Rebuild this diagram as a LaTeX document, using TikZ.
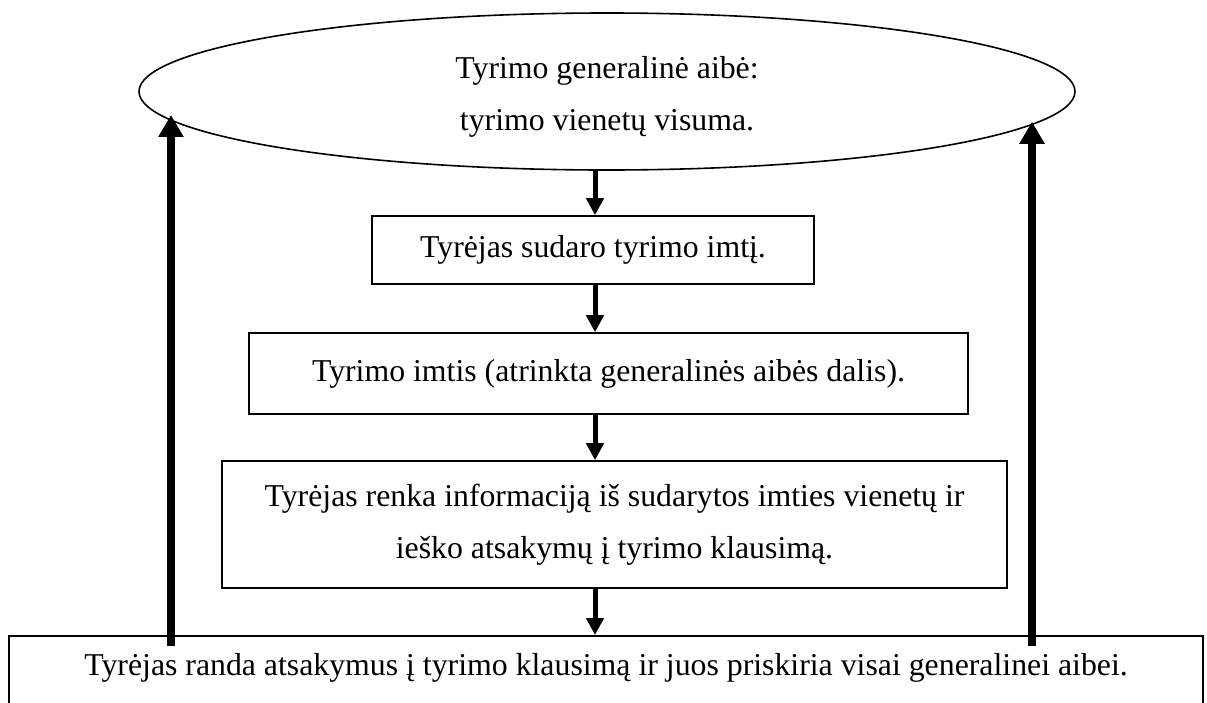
\documentclass[tikz,border=0pt]{standalone}
\usepackage{fontspec}
\setmainfont{Liberation Serif}
\usetikzlibrary{shapes.geometric,arrows.meta}
\begin{document}
\begin{tikzpicture}[x=1pt,y=-1pt,
  txt/.style={font=\fontsize{31.8}{52}\selectfont, align=center},
  box/.style={draw, line width=1.6pt, txt, inner sep=0pt},
  smallarr/.style={line width=5pt, -{Triangle[width=17pt,length=17pt]}},
  bigarr/.style={line width=8.5pt, -{Triangle[width=24pt,length=22pt]}}]
\path[use as bounding box] (0,0) rectangle (1207,702);
\clip (0,0) rectangle (1207,702);
\node[ellipse, draw, line width=1.6pt, txt, minimum width=936pt, minimum height=157pt, inner sep=0pt, text height=84pt] (ell) at (607,91.5) {Tyrimo generalinė aibė:\\tyrimo vienetų visuma.};
\node[box, minimum width=442pt, minimum height=68pt] (b1) at (593,250) {Tyrėjas sudaro tyrimo imtį.};
\node[box, minimum width=719pt, minimum height=81pt] (b2) at (608.5,373.5) {Tyrimo imtis (atrinkta generalinės aibės dalis).};
\node[box, minimum width=785pt, minimum height=127pt] (b3) at (614.5,524.5) {Tyrėjas renka informaciją iš sudarytos imties vienetų ir\\ieško atsakymų į tyrimo klausimą.};
\node[box, anchor=north, minimum width=1194pt, text height=40pt, text depth=80pt] (b4) at (606,635) {Tyrėjas randa atsakymus į tyrimo klausimą ir juos priskiria visai generalinei aibei.};
\coordinate (ax) at (595,0);
\draw[smallarr] (ax |- ell.south) -- (ax |- b1.north);
\draw[smallarr] (ax |- b1.south) -- (ax |- b2.north);
\draw[smallarr] (ax |- b2.south) -- (ax |- b3.north);
\draw[smallarr] (ax |- b3.south) -- (ax |- b4.north);
\coordinate (ls) at (171,646);
\coordinate (rs) at (1032,646);
\draw[bigarr] (ls) -- (ls |- ell.183.74);
\draw[bigarr] (rs) -- (rs |- ell.356.16);
\end{tikzpicture}
\end{document}
